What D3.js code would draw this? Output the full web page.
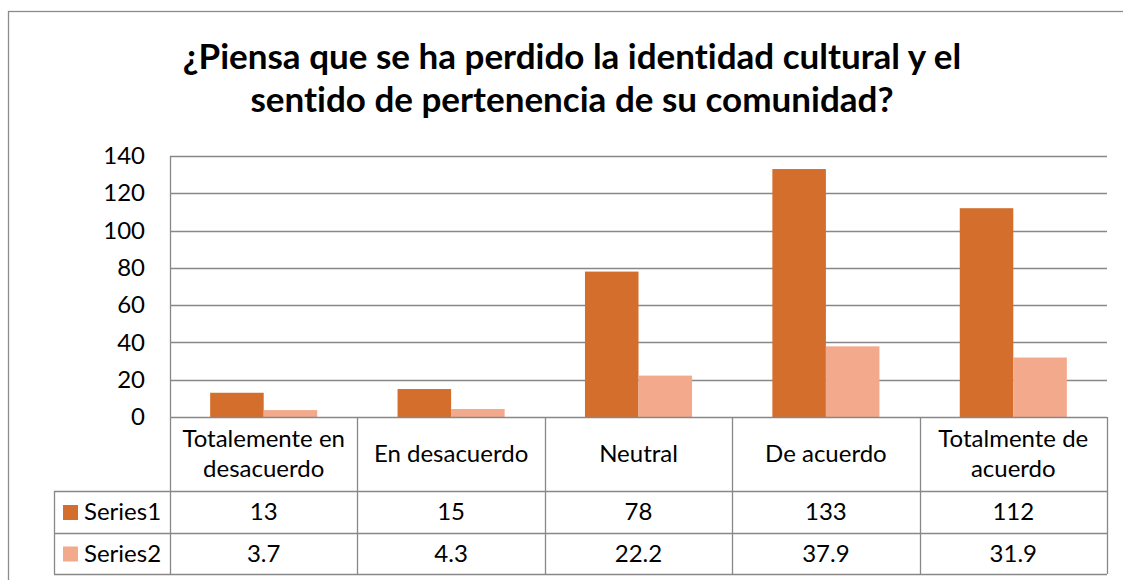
<!DOCTYPE html>
<html>
<head>
<meta charset="utf-8">
<script src="https://cdn.jsdelivr.net/npm/d3@7"></script>
<style>
  body { margin: 0; background: #fff; }
  svg { display: block; font-family: Lato, "Open Sans", sans-serif; font-variant-ligatures: none; }
</style>
</head>
<body>
<div id="chart-area"></div>
<script>
var categories = [["Totalemente en", "desacuerdo"], ["En desacuerdo"], ["Neutral"], ["De acuerdo"], ["Totalmente de", "acuerdo"]];
var seriesNames = ["Series1", "Series2"];
var series1 = [13, 15, 78, 133, 112];
var series2 = [3.7, 4.3, 22.2, 37.9, 31.9];
var yTicks = [0, 20, 40, 60, 80, 100, 120, 140];
var titleLines = ["¿Piensa que se ha perdido la identidad cultural y el", "sentido de pertenencia de su comunidad?"];

var colors = ["#d46e2c", "#f2a98c"];
var gridColor = "#888888";
var fs = 24;

var svg = d3.select("#chart-area").append("svg")
	.attr("width", 1123)
	.attr("height", 580);

// chart border
svg.append("rect")
	.attr("x", 8.5).attr("y", 11.5)
	.attr("width", 1300).attr("height", 800)
	.attr("fill", "none")
	.attr("stroke", "#8c8c8c")
	.attr("stroke-width", 1.3);

// title
svg.append("g").selectAll("text")
	.data(titleLines)
	.enter().append("text")
	.attr("x", 572)
	.attr("y", (d, i) => 69 + i * 43)
	.attr("text-anchor", "middle")
	.attr("font-size", 35)
	.attr("font-weight", "bold")
	.attr("fill", "#000")
	.text(d => d);

var plotLeft = 170, plotRight = 1107, plotTop = 156, zero = 417;
var rowY = [417, 491, 533, 574];
var legendLeft = 54;

var idx = d3.range(categories.length);
var x = d3.scaleBand().domain(idx).range([plotLeft, plotRight]).paddingInner(0).paddingOuter(0);
var x1 = d3.scaleBand().domain([0, 1]).range([0, x.bandwidth()]).paddingInner(0).paddingOuter(0.75);
var y = d3.scaleLinear().domain([0, 140]).range([zero, plotTop]);

// gridlines
svg.append("g").selectAll("line")
	.data(yTicks.filter(d => d > 0))
	.enter().append("line")
	.attr("x1", plotLeft).attr("x2", plotRight)
	.attr("y1", d => Math.round(y(d)) + 0.5)
	.attr("y2", d => Math.round(y(d)) + 0.5)
	.attr("stroke", gridColor)
	.attr("stroke-width", 1.3);

// y axis labels
var yAxis = d3.axisLeft(y).tickValues(yTicks).tickSize(0).tickPadding(0);
var yg = svg.append("g").attr("transform", "translate(145,0)").call(yAxis);
yg.select(".domain").remove();
yg.selectAll("text")
	.attr("font-family", "Lato, 'Open Sans', sans-serif")
	.attr("font-size", fs)
	.attr("fill", "#000");

// bars
var allSeries = [series1, series2];
allSeries.forEach((vals, s) => {
	svg.append("g").selectAll("rect")
		.data(vals)
		.enter().append("rect")
		.attr("x", (d, i) => x(i) + x1(s))
		.attr("y", d => y(d))
		.attr("width", x1.bandwidth())
		.attr("height", d => zero - y(d))
		.attr("fill", colors[s]);
});

// table lines
var tbl = svg.append("g")
	.attr("stroke", gridColor)
	.attr("stroke-width", 1.3)
	.attr("fill", "none");
tbl.append("line").attr("x1", plotLeft).attr("x2", plotRight).attr("y1", zero + 0.5).attr("y2", zero + 0.5);
[rowY[1], rowY[2], rowY[3]].forEach(yy => {
	tbl.append("line").attr("x1", legendLeft).attr("x2", plotRight).attr("y1", yy + 0.5).attr("y2", yy + 0.5);
});
tbl.append("line").attr("x1", plotLeft + 0.5).attr("x2", plotLeft + 0.5).attr("y1", plotTop).attr("y2", rowY[3]);
tbl.append("line").attr("x1", legendLeft + 0.5).attr("x2", legendLeft + 0.5).attr("y1", rowY[1]).attr("y2", rowY[3]);
idx.forEach(i => {
	var xx = Math.round(x(i) + x.bandwidth()) + 0.5;
	tbl.append("line").attr("x1", xx).attr("x2", xx).attr("y1", zero).attr("y2", rowY[3]);
});

// category headers
var hdr = svg.append("g").selectAll("text")
	.data(categories)
	.enter().append("text")
	.attr("text-anchor", "middle")
	.attr("font-size", fs)
	.attr("fill", "#000");
hdr.each(function (lines, i) {
	var t = d3.select(this);
	var cx = x(i) + x.bandwidth() / 2;
	var mid = (rowY[0] + rowY[1]) / 2;
	lines.forEach((ln, j) => {
		t.append("tspan")
			.attr("x", cx)
			.attr("y", mid + 8 + (j - (lines.length - 1) / 2) * 30)
			.text(ln);
	});
});

// value rows + legend
allSeries.forEach((vals, s) => {
	var mid = (rowY[s + 1] + rowY[s + 2]) / 2;
	svg.append("g").selectAll("text")
		.data(vals)
		.enter().append("text")
		.attr("x", (d, i) => x(i) + x.bandwidth() / 2)
		.attr("y", mid + 8)
		.attr("text-anchor", "middle")
		.attr("font-size", fs)
		.attr("fill", "#000")
		.text(d => d);
	svg.append("rect")
		.attr("x", 63).attr("y", mid - 7)
		.attr("width", 15).attr("height", 15)
		.attr("fill", colors[s]);
	svg.append("text")
		.attr("x", 84).attr("y", mid + 8)
		.attr("font-size", fs)
		.attr("fill", "#000")
		.text(seriesNames[s]);
});
</script>
</body>
</html>
